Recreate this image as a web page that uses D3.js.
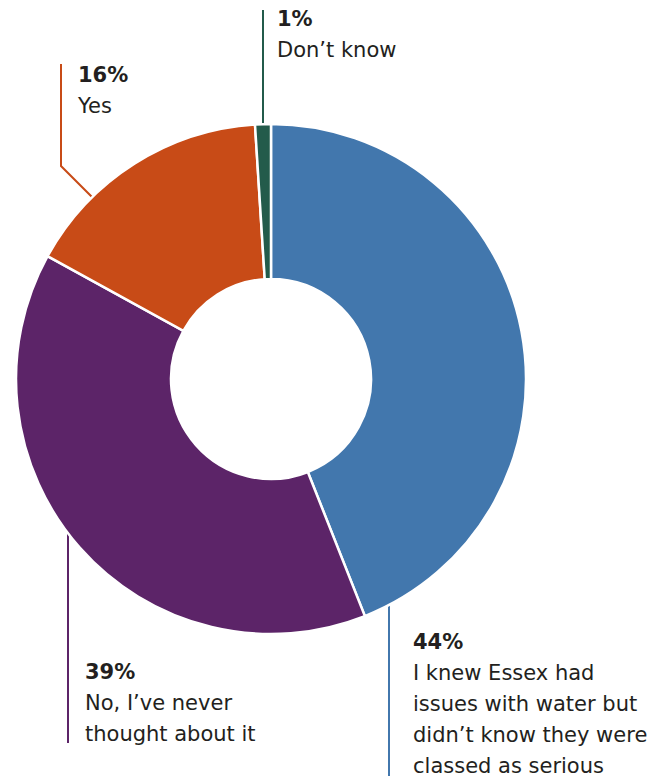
<!DOCTYPE html>
<html>
<head>
<meta charset="utf-8">
<script src="https://cdn.jsdelivr.net/npm/d3@7"></script>
<style>
  html, body { margin: 0; padding: 0; background: #fff; }
  svg { display: block; }
  text { font-family: "DejaVu Sans", sans-serif; fill: #231f20; }
</style>
</head>
<body>
<svg id="chart" width="650" height="776"></svg>
<script>
// ---- data ----
const categories = [
  "I knew Essex had issues with water but didn't know they were classed as serious",
  "No, I\u2019ve never thought about it",
  "Yes",
  "Don\u2019t know"
];
const values = [44, 39, 16, 1];
const labelLines = [
  ["I knew Essex had", "issues with water but", "didn\u2019t know they were", "classed as serious"],
  ["No, I\u2019ve never", "thought about it"],
  ["Yes"],
  ["Don\u2019t know"]
];
const colors = ["#4277ad", "#5c2468", "#c84b17", "#235b4b"];

// ---- layout (not data) ----
const cx = 271, cy = 379, rOuter = 255, rInner = 100;
// label anchor (text x, first baseline y) and leader line path points
const layout = [
  { tx: 413, ty: 649, line: [[389, 590], [389, 776]] },
  { tx: 85,  ty: 679, line: [[68, 500], [68, 743]] },
  { tx: 78,  ty: 82,  line: [[61, 64], [61, 166], [110, 215]] },
  { tx: 277, ty: 26,  line: [[263, 10], [263, 140]] }
];

const svg = d3.select("#chart");
const data = values.map((v, i) => ({ cat: categories[i], value: v, lines: labelLines[i], color: colors[i], lay: layout[i] }));

// leader lines (drawn under the slices)
const lineGen = d3.line();
svg.append("g").selectAll("path")
  .data(data)
  .join("path")
  .attr("d", d => lineGen(d.lay.line))
  .attr("fill", "none")
  .attr("stroke", d => d.color)
  .attr("stroke-width", 2);

// donut
const pie = d3.pie().value(d => d.value).sort(null);
const arc = d3.arc().innerRadius(rInner).outerRadius(rOuter);
svg.append("g")
  .attr("transform", `translate(${cx},${cy})`)
  .selectAll("path")
  .data(pie(data))
  .join("path")
  .attr("d", arc)
  .attr("fill", d => d.data.color)
  .attr("stroke", "#fff")
  .attr("stroke-width", 2.5)
  .attr("stroke-linejoin", "miter");

// labels
const lh = 31;
const lbl = svg.append("g").selectAll("text")
  .data(data)
  .join("text")
  .attr("x", d => d.lay.tx)
  .attr("y", d => d.lay.ty)
  .style("font-size", "21px");
lbl.append("tspan")
  .attr("x", d => d.lay.tx)
  .attr("font-weight", "bold")
  .text(d => d.value + "%");
lbl.each(function(d) {
  const t = d3.select(this);
  d.lines.forEach((ln) => {
    t.append("tspan").attr("x", d.lay.tx).attr("dy", lh).text(ln);
  });
});
</script>
</body>
</html>
